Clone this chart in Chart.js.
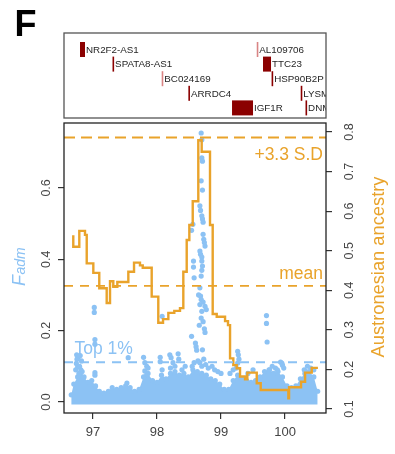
<!DOCTYPE html>
<html>
<head>
<meta charset="utf-8">
<script src="https://cdn.jsdelivr.net/npm/chart.js@4.4.1/dist/chart.umd.min.js"></script>
<style>
  html, body { margin: 0; padding: 0; background: #fff; }
  canvas { display: block; }
</style>
</head>
<body>
<canvas id="chart" width="395" height="454" style="width:395px;height:454px"></canvas>
<script>
// ── Axis ranges and ticks ─────────────────────────────────────
const X_MIN = 96.547, X_MAX = 100.64;
const X_TICKS = [97, 98, 99, 100];
const FADM_MIN = -0.031, FADM_MAX = 0.782;
const FADM_TICKS = [0.0, 0.2, 0.4, 0.6];
const ANC_MIN = 0.0899, ANC_MAX = 0.8227;
const ANC_TICKS = [0.1, 0.2, 0.3, 0.4, 0.5, 0.6, 0.7, 0.8];

// ── Austronesian ancestry (step line, right axis) ─────────────
const stepX = [96.692, 96.692, 96.786, 96.875, 96.902, 97.005, 97.098, 97.214, 97.266, 97.317,
  97.380, 97.552, 97.641, 97.734, 97.777, 97.917, 98.020, 98.094, 98.177, 98.270,
  98.359, 98.411, 98.464, 98.505, 98.558, 98.645, 98.698, 98.828, 98.870, 98.933,
  99.063, 99.109, 99.141, 99.192, 99.245, 99.297, 99.375, 99.411, 99.558, 99.620,
  100.052, 100.063, 100.250, 100.313, 100.417, 100.495];
const stepY = [0.539, 0.510, 0.550, 0.540, 0.468, 0.444, 0.405, 0.368, 0.423, 0.409,
  0.421, 0.447, 0.470, 0.463, 0.457, 0.384, 0.318, 0.327, 0.343, 0.348,
  0.355, 0.447, 0.527, 0.565, 0.625, 0.779, 0.750, 0.565, 0.340, 0.333,
  0.322, 0.312, 0.228, 0.211, 0.203, 0.182, 0.175, 0.192, 0.165, 0.148,
  0.127, 0.155, 0.169, 0.192, 0.204, 0.207];

// ── Fadm: dense low band (upper edge) ─────────────────────────
const bandX = [96.66, 96.70, 96.76, 96.81, 96.86, 96.92, 96.98,
  97.04, 97.10, 97.17, 97.24, 97.30, 97.37, 97.44, 97.51, 97.58, 97.65, 97.72, 97.79, 97.86, 97.93,
  98.00, 98.07, 98.14, 98.21, 98.28, 98.35, 98.42, 98.49, 98.56, 98.63, 98.70, 98.77, 98.84, 98.91, 98.98,
  99.05, 99.12, 99.19, 99.26, 99.33, 99.40, 99.47, 99.54, 99.61, 99.68, 99.75, 99.82, 99.89, 99.96,
  100.03, 100.10, 100.17, 100.24, 100.31, 100.38, 100.45, 100.51];
const bandTop = [0.02, 0.05, 0.07, 0.09, 0.07, 0.055, 0.06,
  0.045, 0.03, 0.025, 0.03, 0.04, 0.035, 0.04, 0.045, 0.04, 0.03, 0.035, 0.07, 0.08, 0.06,
  0.055, 0.075, 0.065, 0.08, 0.085, 0.075, 0.08, 0.07, 0.09, 0.085, 0.08, 0.075, 0.065, 0.06, 0.05,
  0.035, 0.035, 0.06, 0.075, 0.065, 0.06, 0.055, 0.06, 0.07, 0.085, 0.09, 0.08, 0.085, 0.07,
  0.045, 0.04, 0.045, 0.065, 0.08, 0.085, 0.07, 0.03];

// ── Fadm: individual SNPs above the band ──────────────────────
const snpX = [96.745, 96.75, 96.74, 96.77, 96.76, 96.80, 96.82, 96.79, 96.73, 96.83, 96.78,
  97.02, 97.02, 97.03, 97.03, 97.03, 97.03, 97.55, 97.53,
  97.79, 97.81, 97.84, 97.81, 97.84, 97.86, 98.05, 98.05, 98.08, 98.08,
  98.20, 98.22, 98.25, 98.21, 98.28, 98.33, 98.34, 98.39, 98.44,
  98.54, 98.60, 98.61, 98.62, 98.75, 98.71, 98.64, 98.67, 98.70, 98.73, 98.76, 98.80, 98.58, 98.55,
  98.95, 98.90, 99.00, 98.86,
  98.69, 98.70, 98.70, 98.71, 98.69, 98.71, 98.67, 98.68, 98.70, 98.71, 98.72, 98.56, 98.54,
  98.72, 98.73, 98.74, 98.75, 98.67, 98.68, 98.70, 98.70, 98.57, 98.57, 98.71, 98.70, 98.58,
  98.69, 98.67, 98.68, 98.69, 98.67, 98.75, 98.77, 98.70, 98.65, 98.72, 98.69, 98.72, 98.66, 98.74,
  99.71, 99.71, 99.72, 99.26, 99.27, 99.28, 99.26, 99.24, 99.95, 99.93, 99.96, 99.98,
  99.80, 99.85, 99.88, 99.76, 100.35, 100.40, 100.30, 100.33, 99.50, 99.42, 99.19, 99.14, 100.45];
const snpY = [0.132, 0.12, 0.108, 0.125, 0.098, 0.13, 0.115, 0.10, 0.09, 0.085, 0.08,
  0.265, 0.251, 0.175, 0.162, 0.082, 0.075, 0.124, 0.053,
  0.125, 0.11, 0.10, 0.087, 0.077, 0.095, 0.125, 0.113, 0.09, 0.24,
  0.132, 0.124, 0.11, 0.095, 0.10, 0.135, 0.12, 0.09, 0.10,
  0.184, 0.165, 0.155, 0.145, 0.195, 0.146, 0.115, 0.11, 0.10, 0.12, 0.105, 0.095, 0.11, 0.10,
  0.085, 0.09, 0.08, 0.10,
  0.754, 0.735, 0.684, 0.675, 0.620, 0.594, 0.550, 0.537, 0.522, 0.513, 0.504, 0.498, 0.481,
  0.470, 0.456, 0.447, 0.437, 0.423, 0.414, 0.406, 0.395, 0.395, 0.378, 0.381, 0.369, 0.348,
  0.353, 0.320, 0.297, 0.287, 0.273, 0.268, 0.259, 0.254, 0.30, 0.28, 0.235, 0.225, 0.215, 0.205,
  0.242, 0.220, 0.168, 0.142, 0.132, 0.12, 0.109, 0.095, 0.109, 0.112, 0.103, 0.095,
  0.10, 0.095, 0.09, 0.09, 0.10, 0.095, 0.09, 0.085, 0.09, 0.08, 0.09, 0.08, 0.09];

// ── Reference levels ──────────────────────────────────────────
const SD_LEVEL = 0.786;     // +3.3 S.D (ancestry)
const MEAN_LEVEL = 0.411;   // mean (ancestry)
const TOP1_LEVEL = 0.111;   // Top 1% (Fadm)

// ── Genes in the region (Mb) ──────────────────────────────────
const geneNames = ['NR2F2-AS1', 'SPATA8-AS1', 'BC024169', 'ARRDC4', 'IGF1R',
  'AL109706', 'TTC23', 'HSP90B2P', 'LYSMD4', 'DNM1P46'];
const geneStart = [96.797, 97.305, 98.073, 98.490, 99.172, 99.558, 99.656, 99.790, 100.245, 100.320];
const geneEnd   = [96.875, 97.320, 98.083, 98.510, 99.500, 99.567, 99.781, 99.800, 100.255, 100.330];
const geneRow   = [0, 1, 2, 3, 4, 0, 1, 2, 3, 4];
const geneKind  = ['coding', 'coding', 'other', 'coding', 'coding', 'other', 'coding', 'coding', 'coding', 'coding'];

const ORANGE = '#E9A32B';
const BLUE = '#8CC2F4';
const FONT = '"Liberation Sans", Arial, Helvetica, sans-serif';

const pts = (xs, ys) => xs.map((x, i) => ({ x, y: ys[i] }));

// ── Extra drawing: box, labels, gene track ────────────────────
const decorations = {
  id: 'decorations',
  afterDatasetsDraw(chart) {
    const { ctx, chartArea: a, scales } = chart;
    ctx.save();
    ctx.font = '17.5px ' + FONT;
    ctx.fillStyle = ORANGE;
    ctx.textAlign = 'right';
    ctx.textBaseline = 'alphabetic';
    ctx.fillText('+3.3 S.D', a.right - 3, scales.y2.getPixelForValue(SD_LEVEL) + 22);
    ctx.fillText('mean', a.right - 3, scales.y2.getPixelForValue(MEAN_LEVEL) - 7);
    ctx.fillStyle = BLUE;
    ctx.textAlign = 'left';
    ctx.fillText('Top 1%', a.left + 10.5, scales.y.getPixelForValue(TOP1_LEVEL) - 8.5);

    ctx.strokeStyle = '#222';
    ctx.lineWidth = 1.3;
    ctx.strokeRect(a.left, a.top, a.right - a.left, a.bottom - a.top);
    ctx.restore();
  },
  afterDraw(chart) {
    const { ctx, chartArea: a, scales } = chart;
    ctx.save();

    // rotated y tick labels
    const rotText = (txt, x, y) => {
      ctx.save(); ctx.translate(x, y); ctx.rotate(-Math.PI / 2);
      ctx.fillText(txt, 0, 0); ctx.restore();
    };
    ctx.font = '12.5px ' + FONT;
    ctx.fillStyle = '#444';
    ctx.textAlign = 'center';
    ctx.textBaseline = 'alphabetic';
    FADM_TICKS.forEach(v => rotText(v.toFixed(1), a.left - 14.5, scales.y.getPixelForValue(v)));
    ANC_TICKS.forEach(v => rotText(v.toFixed(1), a.right + 26.5, scales.y2.getPixelForValue(v)));

    // right axis title
    const midY = (a.top + a.bottom) / 2;
    ctx.font = '18.3px ' + FONT;
    ctx.fillStyle = ORANGE;
    rotText('Austronesian ancestry', a.right + 57.5, midY - 1);

    // left axis title: F with subscript adm
    ctx.fillStyle = BLUE;
    ctx.font = 'italic 18px ' + FONT;
    const fW = ctx.measureText('F').width;
    ctx.font = 'italic 14px ' + FONT;
    const sW = ctx.measureText('adm').width;
    ctx.save();
    ctx.translate(25, midY - 1);
    ctx.rotate(-Math.PI / 2);
    ctx.textAlign = 'left';
    ctx.font = 'italic 18px ' + FONT;
    ctx.fillText('F', -(fW + sW) / 2, 0);
    ctx.font = 'italic 14px ' + FONT;
    ctx.fillText('adm', -(fW + sW) / 2 + fW + 0.5, 0);
    ctx.restore();

    // panel letter
    ctx.fillStyle = '#000';
    ctx.textAlign = 'left';
    ctx.font = 'bold 36px ' + FONT;
    ctx.fillText('F', 14.5, 36);

    // gene track
    const boxTop = 33, boxBottom = 118;
    ctx.save();
    ctx.beginPath();
    ctx.rect(a.left, boxTop, a.right - a.left, boxBottom - boxTop);
    ctx.clip();
    ctx.font = '9.8px ' + FONT;
    ctx.textBaseline = 'middle';
    geneNames.forEach((name, i) => {
      const x0 = scales.x.getPixelForValue(geneStart[i]);
      const x1 = scales.x.getPixelForValue(geneEnd[i]);
      const yc = 49.5 + geneRow[i] * 14.6;
      const w = Math.max(x1 - x0, 1.6);
      ctx.fillStyle = geneKind[i] === 'coding' ? '#8B0000' : '#D98484';
      ctx.fillRect(x0, yc - 7.5, w, 15);
      ctx.fillStyle = '#262626';
      ctx.fillText(name, x0 + w + 1, yc + 0.5);
    });
    ctx.restore();
    ctx.strokeStyle = '#555';
    ctx.lineWidth = 1.3;
    ctx.strokeRect(a.left, boxTop, a.right - a.left, boxBottom - boxTop);

    ctx.restore();
  }
};

const tickGrid = { display: true, drawOnChartArea: false, drawTicks: true, tickLength: 6, color: '#333', lineWidth: 1.2 };

new Chart(document.getElementById('chart'), {
  type: 'line',
  data: {
    datasets: [
      {
        label: '+3.3 S.D',
        data: pts([X_MIN, X_MAX], [SD_LEVEL, SD_LEVEL]),
        yAxisID: 'y2', borderColor: ORANGE, borderWidth: 2, borderDash: [11, 6],
        pointRadius: 0, order: 0
      },
      {
        label: 'mean',
        data: pts([X_MIN, X_MAX], [MEAN_LEVEL, MEAN_LEVEL]),
        yAxisID: 'y2', borderColor: ORANGE, borderWidth: 1.7, borderDash: [9, 7],
        pointRadius: 0, order: 0
      },
      {
        label: 'Top 1%',
        data: pts([X_MIN, X_MAX], [TOP1_LEVEL, TOP1_LEVEL]),
        yAxisID: 'y', borderColor: BLUE, borderWidth: 2, borderDash: [9, 7],
        pointRadius: 0, order: 0
      },
      {
        label: 'Austronesian ancestry',
        data: pts(stepX, stepY),
        yAxisID: 'y2', stepped: true, borderColor: ORANGE, borderWidth: 2.4,
        pointRadius: 0, fill: false, order: 1
      },
      {
        label: 'Fadm SNPs',
        data: pts(snpX, snpY),
        yAxisID: 'y', showLine: false, pointRadius: 2.6, pointBorderWidth: 0,
        pointBackgroundColor: BLUE, order: 2
      },
      {
        label: 'Fadm band',
        data: pts(bandX, bandTop),
        yAxisID: 'y', borderWidth: 0, borderColor: 'rgba(0,0,0,0)', backgroundColor: BLUE,
        fill: { value: -0.007 }, pointRadius: 2.6, pointBorderWidth: 0,
        pointBackgroundColor: BLUE, tension: 0, order: 3
      }
    ]
  },
  options: {
    responsive: false,
    animation: false,
    events: [],
    layout: { padding: { top: 123, left: 0, right: 0, bottom: 0 } },
    plugins: { legend: { display: false }, tooltip: { enabled: false } },
    scales: {
      x: {
        type: 'linear', min: X_MIN, max: X_MAX,
        afterBuildTicks: s => { s.ticks = X_TICKS.map(v => ({ value: v })); },
        afterFit: s => { s.height = 41; },
        grid: tickGrid, border: { display: false },
        ticks: { color: '#444', font: { family: FONT, size: 13 }, padding: 6 }
      },
      y: {
        type: 'linear', position: 'left', min: FADM_MIN, max: FADM_MAX,
        afterBuildTicks: s => { s.ticks = FADM_TICKS.map(v => ({ value: v })); },
        afterFit: s => { s.width = 64; },
        grid: tickGrid, border: { display: false },
        ticks: { display: false }
      },
      y2: {
        type: 'linear', position: 'right', min: ANC_MIN, max: ANC_MAX,
        afterBuildTicks: s => { s.ticks = ANC_TICKS.map(v => ({ value: v })); },
        afterFit: s => { s.width = 69; },
        grid: tickGrid, border: { display: false },
        ticks: { display: false }
      }
    }
  },
  plugins: [decorations]
});
</script>
</body>
</html>
